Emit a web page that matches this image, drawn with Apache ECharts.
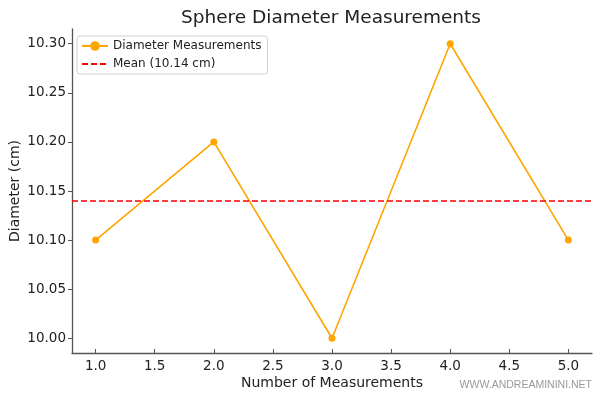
<!DOCTYPE html>
<html>
<head>
<meta charset="utf-8">
<script src="https://cdn.jsdelivr.net/npm/echarts@6/dist/echarts.min.js"></script>
<style>
  html, body { margin: 0; padding: 0; background: #fff; }
  #EChart { width: 600px; height: 398px; }
</style>
</head>
<body>
<div id="EChart"></div>
<script>
// measurement data
const measurementNo = [1, 2, 3, 4, 5];
const diameters = [10.10, 10.20, 10.00, 10.30, 10.10];
const meanDiameter = 10.14;
const xTicks = [1.0, 1.5, 2.0, 2.5, 3.0, 3.5, 4.0, 4.5, 5.0];
const yTicks = [10.00, 10.05, 10.10, 10.15, 10.20, 10.25, 10.30];

const font = 'DejaVu Sans';
const axisColor = '#555555';

let EChart = echarts.init(document.getElementById('EChart'));

let config = {
    animation: false,
    textStyle: { fontFamily: font },
    title: {
        text: 'Sphere Diameter Measurements',
        left: 326,
        top: 4,
        textAlign: 'center',
        textStyle: { fontFamily: font, fontSize: 18.5, fontWeight: 'normal', color: '#222' }
    },
    grid: { left: 72, right: 8, top: 29, bottom: 45, outerBoundsMode: 'none', containLabel: false },
    legend: {
        left: 77,
        top: 36,
        orient: 'vertical',
        padding: [4, 6, 4, 4],
        itemGap: 6,
        itemWidth: 26,
        itemHeight: 12,
        borderColor: '#d0d0d0',
        borderWidth: 1,
        borderRadius: 3,
        textStyle: { fontFamily: font, fontSize: 12, color: '#222' },
        data: [
            { name: 'Diameter Measurements' },
            { name: 'Mean (10.14 cm)', itemStyle: { opacity: 0 } }
        ]
    },
    xAxis: {
        type: 'value',
        min: 0.8,
        max: 5.2,
        name: 'Number of Measurements',
        nameLocation: 'middle',
        nameMoveOverlap: false,
        nameGap: 23,
        nameTextStyle: { fontFamily: font, fontSize: 14, color: '#222' },
        splitLine: { show: false },
        axisLine: { lineStyle: { color: axisColor, width: 1.3 } },
        axisTick: { show: true, inside: true, length: 4, customValues: xTicks, lineStyle: { color: axisColor } },
        axisLabel: {
            customValues: xTicks,
            margin: 6,
            color: '#222',
            fontFamily: font,
            fontSize: 13.5,
            formatter: v => Number(v).toFixed(1)
        }
    },
    yAxis: {
        type: 'value',
        min: 9.985,
        max: 10.315,
        name: 'Diameter (cm)',
        nameLocation: 'middle',
        nameMoveOverlap: false,
        nameGap: 50,
        nameTextStyle: { fontFamily: font, fontSize: 14, color: '#222' },
        splitLine: { show: false },
        axisLine: { show: true, lineStyle: { color: axisColor, width: 1.3 } },
        axisTick: { show: true, length: 4, customValues: yTicks, lineStyle: { color: axisColor } },
        axisLabel: {
            customValues: yTicks,
            margin: 6,
            color: '#222',
            fontFamily: font,
            fontSize: 13.5,
            formatter: v => Number(v).toFixed(2)
        }
    },
    series: [
        {
            name: 'Diameter Measurements',
            type: 'line',
            data: measurementNo.map((x, i) => [x, diameters[i]]),
            symbol: 'circle',
            symbolSize: 7,
            lineStyle: { color: '#FFA500', width: 1.6 },
            itemStyle: { color: '#FFA500' },
            z: 2
        },
        {
            name: 'Mean (10.14 cm)',
            type: 'line',
            data: [],
            symbol: 'none',
            lineStyle: { color: '#FF0000', width: 1.6, type: [6, 3] },
            itemStyle: { color: '#FF0000' },
            markLine: {
                silent: true,
                symbol: 'none',
                label: { show: false },
                lineStyle: { color: '#FF0000', width: 1.6, type: [6, 3] },
                data: [{ yAxis: meanDiameter }]
            },
            z: 3
        }
    ],
    graphic: [
        {
            type: 'text',
            right: 8,
            top: 380,
            style: { text: 'WWW.ANDREAMININI.NET', fill: '#999999', font: '10.5px "Liberation Sans"' }
        }
    ]
};

EChart.setOption(config);
</script>
</body>
</html>
